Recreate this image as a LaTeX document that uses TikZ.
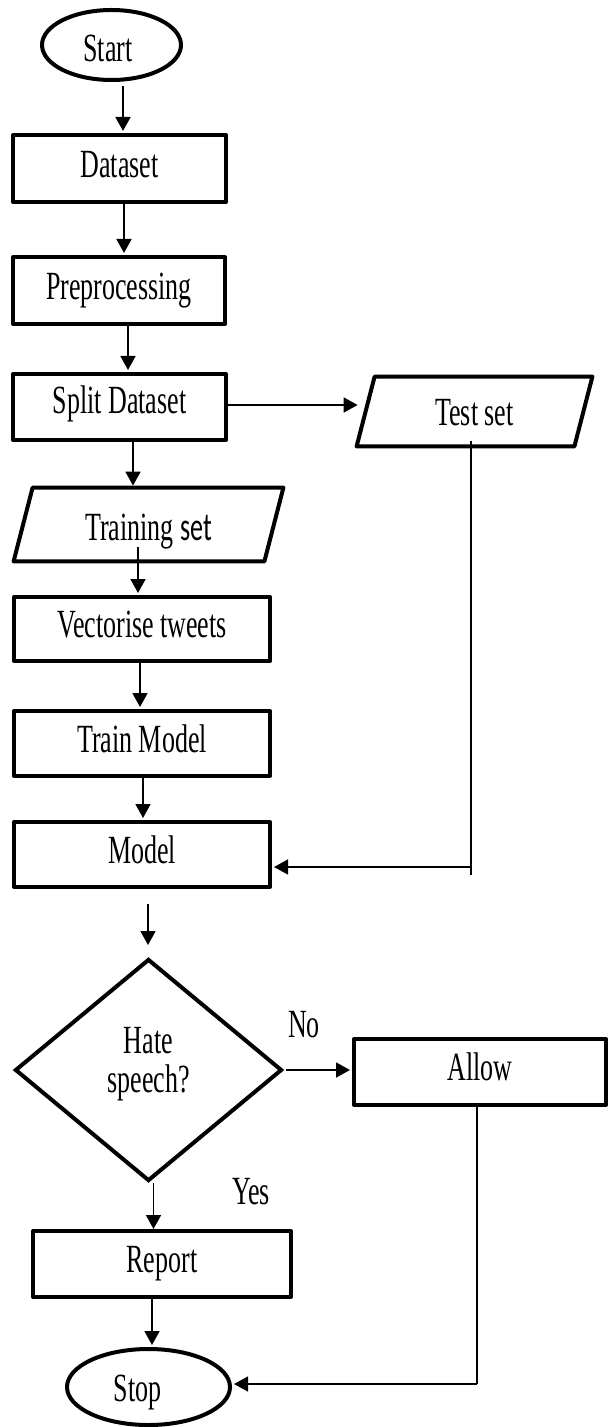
\documentclass[tikz,border=0pt]{standalone}
\usepackage{fontspec}
\setmainfont{Liberation Serif}[FakeStretch=0.65]
\newfontfamily\carlito{Carlito}[FakeStretch=0.65]
\usetikzlibrary{arrows.meta,shapes.geometric}
\begin{document}
\begin{tikzpicture}[x=0.5pt,y=-0.5pt,
  every node/.style={font=\fontsize{20}{19.5}\selectfont, inner sep=0pt},
  boxnode/.style={draw, line width=2pt, line join=round, rectangle, text height=14pt, text depth=5.2pt},
  termnode/.style={draw, line width=2pt, ellipse},
  shapeline/.style={line width=2pt, line join=round},
  arr/.style={line width=0.9pt, -{Triangle[length=7pt,width=7.5pt]}, shorten >=1pt},
  conn/.style={line width=0.6pt}]
\useasboundingbox (0,0) rectangle (610,1427);

% nodes
\node[termnode, minimum width=69.5pt, minimum height=35pt, text height=16.2pt, text depth=0pt] (start) at (111.5,45) {Start\hspace*{3.5pt}};
\node[boxnode, minimum width=106.5pt, minimum height=33.5pt] (dataset) at (119.5,168.5) {Dataset};
\node[boxnode, minimum width=106pt, minimum height=33.5pt] (pre) at (119,290.5) {Preprocessing};
\node[boxnode, minimum width=106.5pt, minimum height=33pt, text height=14pt, text depth=7.8pt] (split) at (119.5,407) {Split Dataset};

\node[minimum width=134.5pt, minimum height=36.5pt, text height=15.7pt, text depth=0pt] (trainset) at (148.5,524.5) {Training {\carlito set}};
\draw[shapeline] ([xshift=9.5pt]trainset.north west) -- (trainset.north east) -- ([xshift=-9.5pt]trainset.south east) -- (trainset.south west) -- cycle;

\node[minimum width=117.5pt, minimum height=34.5pt, text height=14.2pt, text depth=0pt] (test) at (474.5,411.5) {Test set};
\draw[shapeline] ([xshift=9pt]test.north west) -- (test.north east) -- ([xshift=-9pt]test.south east) -- (test.south west) -- cycle;

\node[boxnode, minimum width=128pt, minimum height=32pt] (vec) at (142,629) {Vectorise tweets};
\node[boxnode, minimum width=128pt, minimum height=32.5pt] (trm) at (142,743.5) {Train Model};
\node[boxnode, minimum width=128pt, minimum height=32.5pt] (model) at (142,854.5) {Model};

\node[draw, diamond, line width=2pt, minimum width=133.5pt, minimum height=111pt] (dia) at (148.5,1070) {};
\node[align=center] (diatxt) at ([yshift=2.8pt]dia.center) {Hate\\speech?};

\node[boxnode, minimum width=126pt, minimum height=33pt] (allow) at (480,1072) {Allow};
\node[boxnode, minimum width=129pt, minimum height=33pt] (report) at (162,1264) {Report};
\node[termnode, minimum width=81.5pt, minimum height=38pt, text height=14.2pt, text depth=0pt] (stop) at (148.5,1387) {Stop\hspace*{11pt}};

\node (no) at (304,1025) {No};
\node (yes) at (251,1192) {Yes};

% connectors
\draw[arr] ([xshift=5.75pt,yshift=-2pt]start.south) -- ([xshift=5.75pt]start.south |- dataset.north);
\draw[arr] ([xshift=2.25pt]dataset.south) -- ([xshift=2.25pt]dataset.south |- pre.north);
\draw[arr] ([xshift=4.5pt]pre.south) -- ([xshift=4.5pt]pre.south |- split.north);
\draw[arr] ([xshift=6.75pt]split.south) -- ([xshift=6.75pt]split.south |- trainset.north);
\draw[arr] ([xshift=-5.25pt,yshift=-11.25pt]trainset.center) -- ([xshift=-5.25pt]trainset.center |- vec.north);
\draw[arr] ([xshift=-1pt]vec.south) -- ([xshift=-1pt]vec.south |- trm.north);
\draw[arr] ([xshift=0.5pt]trm.south) -- ([xshift=0.5pt]trm.south |- model.north);
\draw[arr, shorten >=0pt] ([xshift=3pt,yshift=-7.5pt]model.south) -- ([xshift=3pt,yshift=6pt]model.south |- dia.north);
\draw[arr, shorten >=0pt] ([xshift=2.5pt]dia.south) -- ([xshift=2.5pt]dia.south |- report.north);
\draw[arr] ([xshift=-5pt]report.south) -- ([xshift=-5pt]report.south |- stop.north);
\draw[arr, shorten >=0pt] ([yshift=1pt]split.east) -- ([yshift=1pt,xshift=0.5pt]split.east -| test.west);

\coordinate (j1) at (471,867);
\draw[conn] ([yshift=-14.75pt]test.center -| j1) -- ([yshift=-4pt]j1);
\draw[arr, line width=0.7pt] (j1) -- (j1 -| model.east);

\draw[arr] ([xshift=1pt]dia.east) -- (dia.east -| allow.west);

\coordinate (j2) at (477,1384);
\draw[conn] (allow.south -| j2) -- (j2);
\draw[arr, line width=0.7pt] (j2) -- (j2 -| stop.east);
\end{tikzpicture}
\end{document}
